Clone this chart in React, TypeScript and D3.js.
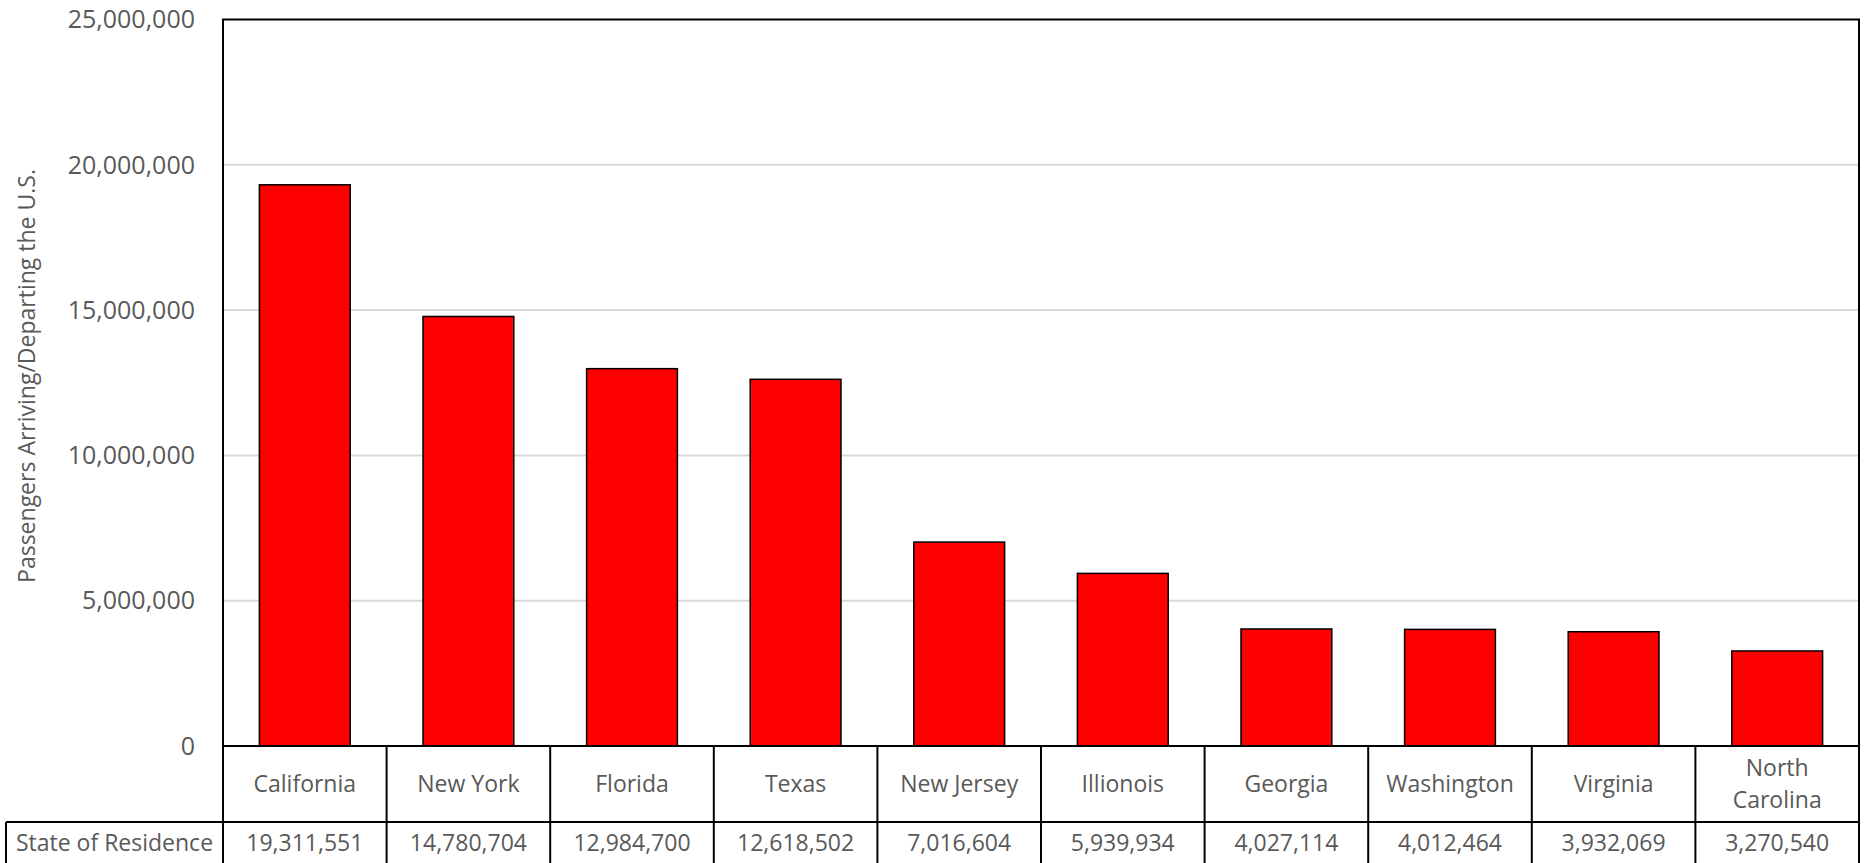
import * as d3 from 'd3';

const states = ['California', 'New York', 'Florida', 'Texas', 'New Jersey', 'Illionois', 'Georgia', 'Washington', 'Virginia', 'North Carolina'];
const passengers = [19311551, 14780704, 12984700, 12618502, 7016604, 5939934, 4027114, 4012464, 3932069, 3270540];
const yTicks = [0, 5000000, 10000000, 15000000, 20000000, 25000000];

const W = 1865;
const H = 863;
const left = 223;
const right = 1859;
const top = 19.5;
const base = 746;
const catRowBottom = 822;
const tableBottom = 870;
const tableLeft = 6;
const textColor = '#595959';
const font = '"Open Sans", sans-serif';

export default function App() {
  const x = d3.scaleBand<string>().domain(states).range([left, right]).paddingInner(0.445).paddingOuter(0.2225);
  const cells = d3.scaleBand<string>().domain(states).range([left, right]);
  const y = d3.scaleLinear().domain([0, 25000000]).range([base, top]);
  const fmt = d3.format(',');

  return (
    <svg width={W} height={H} style={{ position: 'absolute', left: 0, top: 0, background: '#fff' }} fontFamily={font}>
      {/* gridlines */}
      {yTicks.slice(1, -1).map(t => (
        <line key={t} x1={left} x2={right} y1={y(t)} y2={y(t)} stroke="#D9D9D9" strokeWidth={2} />
      ))}
      {/* y tick labels */}
      {yTicks.map(t => (
        <text key={t} x={195} y={y(t)} dy="0.35em" textAnchor="end" fontSize={25} fill={textColor}>
          {fmt(t)}
        </text>
      ))}
      {/* y axis title */}
      <text transform={`translate(27,376) rotate(-90)`} textAnchor="middle" dy="0.35em" fontSize={23} fill={textColor}>
        Passengers Arriving/Departing the U.S.
      </text>
      {/* bars */}
      {states.map((s, i) => (
        <rect key={s} x={x(s)} y={y(passengers[i])} width={x.bandwidth()} height={base - y(passengers[i])}
          fill="#FF0000" stroke="#000" strokeWidth={1.5} />
      ))}
      {/* plot frame */}
      <rect x={left} y={top} width={right - left} height={base - top} fill="none" stroke="#000" strokeWidth={2} />
      {/* data table */}
      <line x1={tableLeft} x2={right} y1={catRowBottom} y2={catRowBottom} stroke="#000" strokeWidth={2} />
      <line x1={tableLeft} x2={tableLeft} y1={catRowBottom} y2={tableBottom} stroke="#000" strokeWidth={2} />
      <line x1={left} x2={left} y1={base} y2={tableBottom} stroke="#000" strokeWidth={2} />
      {states.map(s => (
        <line key={s} x1={(cells(s) ?? 0) + cells.bandwidth()} x2={(cells(s) ?? 0) + cells.bandwidth()}
          y1={base} y2={tableBottom} stroke="#000" strokeWidth={2} />
      ))}
      {states.map(s => {
        const cx = (cells(s) ?? 0) + cells.bandwidth() / 2;
        const words = s === 'North Carolina' ? ['North', 'Carolina'] : [s];
        return words.map((w, j) => (
          <text key={s + w} x={cx} y={words.length === 1 ? 784 : 768 + j * 32} dy="0.35em"
            textAnchor="middle" fontSize={23} fill={textColor}>
            {w}
          </text>
        ));
      })}
      <text x={(tableLeft + left) / 2} y={843} dy="0.35em" textAnchor="middle" fontSize={23} fill={textColor}>
        State of Residence
      </text>
      {states.map((s, i) => (
        <text key={s} x={(cells(s) ?? 0) + cells.bandwidth() / 2} y={843} dy="0.35em" textAnchor="middle" fontSize={23} fill={textColor}>
          {fmt(passengers[i])}
        </text>
      ))}
    </svg>
  );
}
